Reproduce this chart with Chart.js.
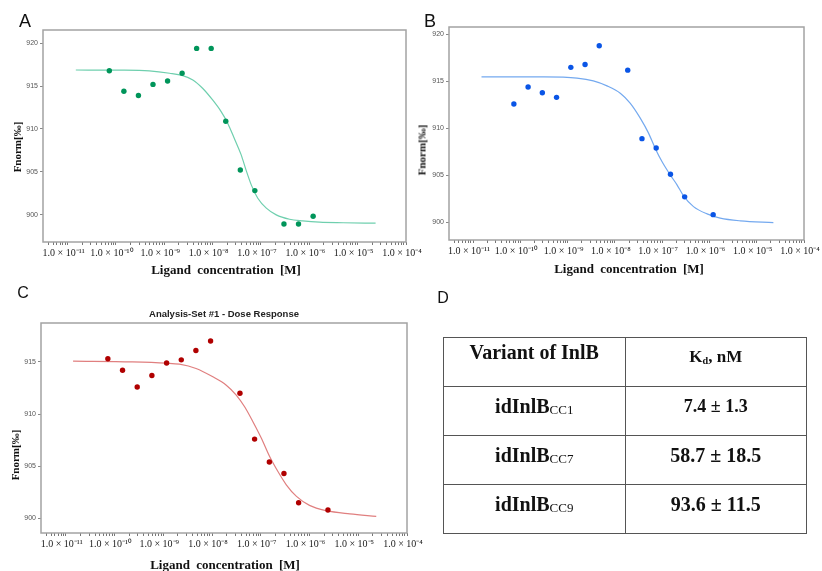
<!DOCTYPE html>
<html>
<head>
<meta charset="utf-8">
<script src="https://cdn.jsdelivr.net/npm/chart.js@4.4.1/dist/chart.umd.min.js"></script>
<style>
html, body { margin: 0; padding: 0; background: #fff; }
#page { position: relative; width: 822px; height: 571px; overflow: hidden; }
canvas { position: absolute; left: 0; top: 0; }
.t { position: absolute; white-space: nowrap; transform: translate(-50%, -50%); line-height: 1; color: #111; }
.letter { font-family: "Liberation Sans", Arial, sans-serif; }
.xt { font-family: "Liberation Serif", serif; font-weight: bold; font-size: 13px; word-spacing: 3px; }
.yt { font-family: "Liberation Serif", serif; font-weight: bold; font-size: 11px; transform: translate(-50%, -50%) rotate(-90deg); }
.ct { font-family: "Liberation Sans", Arial, sans-serif; font-weight: bold; font-size: 9.5px; color: #222; }
#kd { position: absolute; left: 443px; top: 337px; width: 364px; border-collapse: collapse; table-layout: fixed;
      font-family: "Liberation Serif", serif; font-weight: bold; color: #111; }
#kd tr { height: 49px; }
#kd td { border: 1.5px solid #555; padding: 0 0 10px 0; text-align: center; vertical-align: middle; font-size: 20px; line-height: 1.15; }
#kd td.h1 { padding-bottom: 20px; }
#kd td.h2 { font-size: 17px; }
#kd td.r0 { font-size: 18px; }
#kd sub { font-size: 60%; vertical-align: -2px; }
#kd span.cc { font-size: 13px; font-weight: normal; position: relative; top: 1px; }
</style>
</head>
<body>
<div id="page">
  <canvas id="chartA" width="822" height="571"></canvas>
  <canvas id="chartB" width="822" height="571"></canvas>
  <canvas id="chartC" width="822" height="571"></canvas>

  <div class="t letter" style="left:25px;top:21px;font-size:18px">A</div>
  <div class="t letter" style="left:430px;top:21px;font-size:18px">B</div>
  <div class="t letter" style="left:23px;top:293px;font-size:16px">C</div>
  <div class="t letter" style="left:443px;top:298px;font-size:16px">D</div>

  <div class="t yt" style="left:17px;top:147px">Fnorm[‰]</div>
  <div class="t yt" style="left:422px;top:150px">Fnorm[‰]</div>
  <div class="t yt" style="left:15px;top:455px">Fnorm[‰]</div>

  <div class="t xt" style="left:226px;top:269px">Ligand concentration [M]</div>
  <div class="t xt" style="left:629px;top:268px">Ligand concentration [M]</div>
  <div class="t xt" style="left:225px;top:564px">Ligand concentration [M]</div>

  <div class="t ct" style="left:224px;top:314px">Analysis-Set #1 - Dose Response</div>

  <table id="kd"></table>
</div>
<script>
// ligand concentrations [M] and Fnorm values
const concA = [7.3e-11, 1.46e-10, 2.92e-10, 5.84e-10, 1.17e-9, 2.34e-9, 4.67e-9, 9.34e-9, 1.87e-8, 3.74e-8, 7.47e-8, 2.99e-7, 5.98e-7, 1.2e-6];
const fnormA = [916.8, 914.4, 913.9, 915.2, 915.6, 916.5, 919.4, 919.4, 910.9, 905.2, 902.8, 898.9, 898.9, 899.8];
const fitConcA = [1.48e-11, 1.17e-10, 4.9e-10, 1.29e-9, 2.4e-9, 3.9e-9, 6.2e-9, 1.0e-8, 1.5e-8, 2.05e-8, 2.8e-8, 3.9e-8, 4.9e-8, 6.3e-8, 8.6e-8, 1.29e-7, 2.07e-7, 3.9e-7, 7.3e-7, 1.63e-6, 5e-6, 2.35e-5];
const fitA = [916.88, 916.86, 916.77, 916.5, 916.22, 915.72, 914.75, 913.38, 912.02, 910.67, 908.91, 906.97, 905.22, 903.47, 901.91, 900.75, 899.97, 899.46, 899.26, 899.11, 899.05, 899.0];

const concB = [7.3e-11, 1.46e-10, 2.92e-10, 5.84e-10, 1.17e-9, 2.34e-9, 4.67e-9, 1.87e-8, 3.74e-8, 7.47e-8, 1.5e-7, 2.99e-7, 1.2e-6];
const fnormB = [912.6, 914.4, 913.8, 913.3, 916.5, 916.8, 918.8, 916.2, 908.9, 907.9, 905.1, 902.7, 900.8];
const fitConcB = [1.51e-11, 3.1e-10, 1.58e-9, 3.5e-9, 6.8e-9, 1.3e-8, 2.1e-8, 3.44e-8, 5.15e-8, 7.1e-8, 9.9e-8, 1.48e-7, 2.06e-7, 2.83e-7, 4.6e-7, 8.9e-7, 1.69e-6, 4.5e-6, 2.25e-5];
const fitB = [915.49, 915.48, 915.35, 915.06, 914.53, 913.75, 912.69, 911.09, 909.49, 907.89, 906.46, 905.04, 903.98, 902.81, 901.66, 900.88, 900.43, 900.14, 899.96];

const concC = [7.3e-11, 1.46e-10, 2.92e-10, 5.84e-10, 1.17e-9, 2.34e-9, 4.67e-9, 9.34e-9, 3.74e-8, 7.47e-8, 1.5e-7, 2.99e-7, 5.98e-7, 2.39e-6];
const fnormC = [915.3, 914.2, 912.6, 913.7, 914.9, 915.2, 916.1, 917.0, 912.0, 907.6, 905.4, 904.3, 901.5, 900.8];
const fitConcC = [1.41e-11, 2.3e-10, 1.15e-9, 2.15e-9, 4.7e-9, 1.04e-8, 1.96e-8, 3.14e-8, 4.66e-8, 6.9e-8, 1.03e-7, 1.52e-7, 2.25e-7, 3.34e-7, 5.4e-7, 1.0e-6, 2.22e-6, 6.7e-6, 2.34e-5];
const fitC = [915.07, 915.0, 914.88, 914.78, 914.37, 913.57, 912.77, 911.82, 910.70, 909.27, 907.68, 905.93, 904.49, 903.22, 902.11, 901.25, 900.74, 900.43, 900.2];

const decades = [1e-11, 1e-10, 1e-9, 1e-8, 1e-7, 1e-6, 1e-5, 1e-4];
const xTickLabels = ['1.0 × 10⁻¹¹', '1.0 × 10⁻¹⁰', '1.0 × 10⁻⁹', '1.0 × 10⁻⁸', '1.0 × 10⁻⁷', '1.0 × 10⁻⁶', '1.0 × 10⁻⁵', '1.0 × 10⁻⁴'];
const yTicksAB = [900, 905, 910, 915, 920];
const yTicksC = [900, 905, 910, 915];

// table D
const variantNames = ['idInlB', 'idInlB', 'idInlB'];
const variantSubs = ['CC1', 'CC7', 'CC9'];
const kdValues = ['7.4 ± 1.3', '58.7 ± 18.5', '93.6 ± 11.5'];

const xMin = 3.1e-12, xMax = 1e-4;

// minor + major tick positions for the log axis
let xTickValues = [];
[1e-12].concat(decades).forEach(d => {
  for (let m = 1; m <= 9; m++) {
    let v = m * d;
    if (v >= xMin && v <= xMax * 1.0001) xTickValues.push(v);
  }
});

const frame = {
  id: 'frame',
  afterDraw(chart) {
    const {ctx, chartArea: a} = chart;
    ctx.save();
    ctx.strokeStyle = '#a3a3a3';
    ctx.lineWidth = 1.5;
    ctx.strokeRect(a.left, a.top, a.right - a.left, a.bottom - a.top);
    ctx.restore();
  }
};

function pairs(xs, ys) { return xs.map((x, i) => ({x: x, y: ys[i]})); }

function makeChart(id, box, yMin, yMax, yTicks, pts, fit, dotColor, lineColor) {
  const yw = 30, xh = 24;
  new Chart(document.getElementById(id), {
    type: 'scatter',
    data: {
      datasets: [
        { data: pts, backgroundColor: dotColor, borderColor: dotColor, pointRadius: 2.7, pointBorderWidth: 0 },
        { data: fit, showLine: true, borderColor: lineColor, borderWidth: 1.2, pointRadius: 0,
          cubicInterpolationMode: 'monotone', fill: false }
      ]
    },
    options: {
      responsive: false, animation: false, devicePixelRatio: 1, events: [],
      layout: { padding: { left: box.left - yw, top: box.top, right: 822 - box.right, bottom: 571 - box.bottom - xh } },
      plugins: { legend: { display: false }, tooltip: { enabled: false } },
      scales: {
        x: {
          type: 'logarithmic', min: xMin, max: xMax,
          border: { display: false },
          grid: { drawOnChartArea: false, tickLength: 3, color: '#777' },
          ticks: {
            autoSkip: false, maxRotation: 0, minRotation: 0, padding: 2, labelOffset: -4, color: '#1a1a1a',
            font: { family: 'Liberation Serif', size: 10 },
            callback: v => {
              const i = decades.findIndex(d => Math.abs(v / d - 1) < 1e-6);
              return i < 0 ? '' : xTickLabels[i];
            }
          },
          afterBuildTicks: s => { s.ticks = xTickValues.map(v => ({value: v})); },
          afterFit: s => { s.height = xh; s.paddingLeft = 0; s.paddingRight = 0; }
        },
        y: {
          min: yMin, max: yMax,
          border: { display: false },
          grid: { drawOnChartArea: false, tickLength: 3, color: '#888' },
          ticks: { padding: 2, color: '#555', font: { family: 'Liberation Sans', size: 7 } },
          afterBuildTicks: s => { s.ticks = yTicks.map(v => ({value: v})); },
          afterFit: s => { s.width = yw; s.paddingTop = 0; s.paddingBottom = 0; }
        }
      }
    },
    plugins: [frame]
  });
}

makeChart('chartA', {left: 43, top: 30, right: 406, bottom: 242}, 896.8, 921.55, yTicksAB,
  pairs(concA, fnormA), pairs(fitConcA, fitA), '#00955a', '#6fcfae');
makeChart('chartB', {left: 449, top: 27, right: 804, bottom: 240}, 898.1, 920.8, yTicksAB,
  pairs(concB, fnormB), pairs(fitConcB, fitB), '#0a55e6', '#74a9ef');
makeChart('chartC', {left: 41, top: 323, right: 407, bottom: 533}, 898.6, 918.73, yTicksC,
  pairs(concC, fnormC), pairs(fitConcC, fitC), '#b00000', '#e07f7f');

// table D
let html = '<tr><td class="h1">Variant of InlB</td><td class="h2">K<sub>d</sub>, nM</td></tr>';
variantNames.forEach((n, i) => {
  html += '<tr><td>' + n + '<span class="cc">' + variantSubs[i] + '</span></td>' +
          '<td class="r' + i + '">' + kdValues[i] + '</td></tr>';
});
document.getElementById('kd').innerHTML = html;
</script>
</body>
</html>
